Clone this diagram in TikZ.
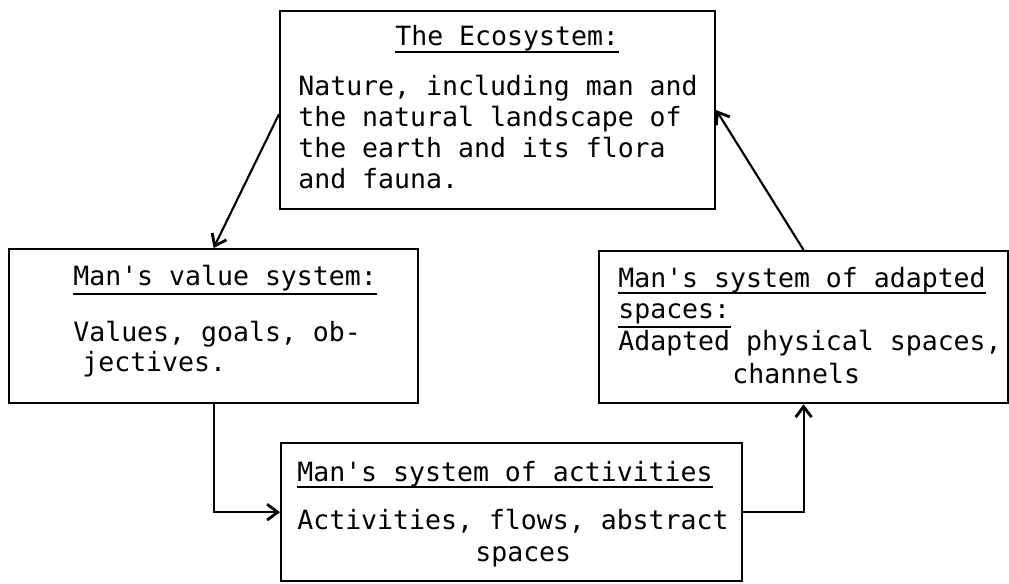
\documentclass[tikz,border=0pt]{standalone}
\usepackage{fontspec}
\usetikzlibrary{arrows.meta,calc}
\newfontfamily\twfont{DejaVu Sans Mono}
\newcommand{\ap}{\textquotesingle}
\tikzset{
  box/.style={draw, line width=1.3pt, inner sep=0, anchor=north west},
  txt/.style={inner sep=0, anchor=base west, font=\twfont\fontsize{15.1pt}{18pt}\selectfont},
  arr/.style={line width=1.2pt, -{Straight Barb[length=6pt,width=9pt,line width=1.6pt]}},
  uline/.style={line width=1pt}
}
\begin{document}
\begin{tikzpicture}[x=0.02cm, y=-0.02cm]
      \useasboundingbox (0, 0) rectangle (1009, 583);

      \node [box, minimum width=8.7cm, minimum height=3.96cm] (eco) at (279, 10) {};
      \node [box, minimum width=8.18cm, minimum height=3.08cm] (val) at (8, 248) {};
      \node [box, minimum width=8.18cm, minimum height=3.04cm] (ada) at (598, 250) {};
      \node [box, minimum width=9.22cm, minimum height=2.76cm] (act) at (280, 442) {};

      \node [txt] (ecot) at (395, 45) {The Ecosystem:};
      \node [txt] (eco1) at (298, 95) {Nature, including man and};
      \node [txt] (eco2) at (298, 126) {the natural landscape of};
      \node [txt] (eco3) at (298, 157) {the earth and its flora};
      \node [txt] (eco4) at (298, 188) {and fauna.};

      \node [txt] (valt) at (73, 285) {Man\ap s value system:};
      \node [txt] (val1) at (73, 341) {Values, goals, ob-};
      \node [txt] (val2) at (82, 371) {jectives.};

      \node [txt] (adat) at (618, 287) {Man\ap s system of adapted};
      \node [txt] (adas) at (618, 318) {spaces:};
      \node [txt] (ada1) at (618, 350) {Adapted physical spaces,};
      \node [txt] (ada2) at (732, 383) {channels};

      \node [txt] (actt) at (297, 481) {Man\ap s system of activities};
      \node [txt] (act1) at (297, 529) {Activities, flows, abstract};
      \node [txt] (act2) at (475, 561) {spaces};

      \draw [uline] ([yshift=-4pt]ecot.base west) -- ([yshift=-4pt]ecot.base east);
      \draw [uline] ([yshift=-5pt]valt.base west) -- ([yshift=-5pt]valt.base east);
      \draw [uline] ([yshift=-3.5pt]adat.base west) -- ([yshift=-3.5pt]adat.base east);
      \draw [uline] ([yshift=-5pt]adas.base west) -- ([yshift=-5pt]adas.base east);
      \draw [uline] ([yshift=-3.5pt]actt.base west) -- ([yshift=-3.5pt]actt.base east);

      \draw [arr] ($(eco.north west)!0.52!(eco.south west)$) -- (val.north);
      \draw [arr] (val.south) |- (act.west);
      \draw [arr] (act.east) -| (ada.south);
      \draw [arr] (ada.north) -- (eco.east);
    \end{tikzpicture}
\end{document}
